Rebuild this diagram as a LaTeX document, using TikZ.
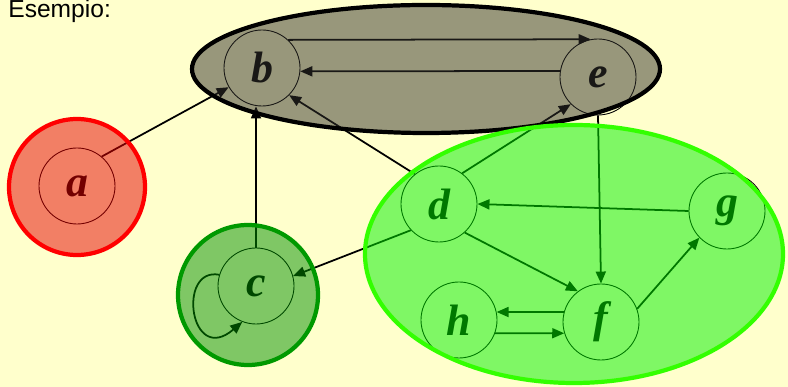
\documentclass[tikz,border=0pt]{standalone}
\usepackage{fontspec}
\setmainfont{Liberation Serif}
\newfontfamily\titlefont{Liberation Sans}
\usetikzlibrary{arrows.meta,positioning,calc}
\definecolor{paper}{RGB}{255,255,204}
\definecolor{sccgray}{RGB}{50,48,44}
\definecolor{sccgreen}{RGB}{0,240,0}
\definecolor{sccdark}{RGB}{0,145,0}
\definecolor{sccred}{RGB}{230,0,0}
\definecolor{rimgreen}{RGB}{51,255,0}
\definecolor{rimdark}{RGB}{0,153,0}

\begin{document}
\begin{tikzpicture}[
  vert/.style={circle, draw, line width=0.5pt, minimum size=15.2mm, inner sep=0pt,
    font=\fontsize{25}{25}\selectfont\bfseries\itshape},
  arr/.style={-{Triangle[length=2.4mm,width=2mm]}, line width=1pt},
  scc/.style={line width=2.4pt, fill opacity=0.5}
]
  \fill[paper] (0,0) rectangle (15.76,7.74);
  \useasboundingbox (0,0) rectangle (15.76,7.74);
  \node[anchor=base west, inner sep=0pt, font=\titlefont\fontsize{14}{14}\selectfont]
    (title) at (0.16,7.38) {Esempio:};

  \node[vert] (a) at (1.54,4.02) {a};
  \node[vert] (b) at (5.24,6.38) {b};
  \node[vert] (c) at (5.12,2.02) {c};
  \node[vert] (d) at (8.78,3.66) {d};
  \node[vert] (e) at (11.96,6.20) {e};
  \node[vert] (f) at (12.02,1.30) {f};
  \node[vert] (g) at (14.54,3.52) {g};
  \node[vert] (h) at (9.18,1.34) {h};

  \draw[arr] (a.50) -- (b.210);
  \draw[arr] (b.47) -- (e.101);
  \draw[arr] (e.171) -- (b.-5);
  \draw[arr] (c.north) -- (c.north |- b.south);
  \draw[arr] (c.163) .. controls +(-0.85,0.16) and +(-1.05,-0.9) .. (c.249);
  \draw[arr] (d.129) -- (b.-45);
  \draw[arr] (d.53) -- (e.225);
  \draw[arr] (d.223) -- (c.15);
  \draw[arr] (e.south) -- (f.north);
  \draw[arr] (g.west) -- (d.east);
  \draw[arr] (d.-48) -- (f.127);
  \draw[arr] (f.20) -- (g.224);
  \draw[arr] (f.165) -- (h.12);
  \draw[arr] (h.-20) -- (f.197);

  % components laid over the graph
  \filldraw[scc, fill=sccgray, draw=black] (8.52,6.36) ellipse [x radius=4.68, y radius=1.28];
  \filldraw[scc, fill=sccred, draw=red] (1.54,4.00) circle [radius=1.36];
  \filldraw[scc, fill=sccdark, draw=rimdark] (4.96,1.84) circle [radius=1.40];
  \filldraw[scc, fill=sccgreen, draw=rimgreen] (11.48,2.66) ellipse [x radius=4.18, y radius=2.58];
\end{tikzpicture}
\end{document}
